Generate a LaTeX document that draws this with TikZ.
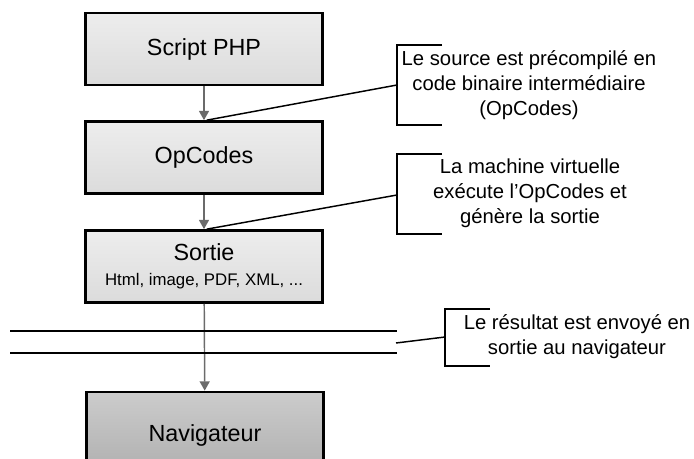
\documentclass[tikz,border=0pt]{standalone}
\usepackage{fontspec}
\setmainfont{Liberation Sans}
\usepackage{tikz}
\usetikzlibrary{arrows.meta}
\tikzstyle{phase}=[draw,black,line width=2pt,align=center,minimum width=178pt,minimum height=54pt,inner sep=2pt,top color=white!93!black,bottom color=white!86!black,font=\fontsize{17.5}{20}\selectfont]
\tikzstyle{client}=[phase,minimum height=64.5pt,top color=white!80!black,bottom color=white!68!black]
\tikzstyle{flow} = [draw,black!58,line width=1.1pt,-{Triangle[length=7pt,width=7.5pt]}]
\tikzstyle{note} = [align=center,inner sep=0pt,font=\fontsize{15.2}{18.75}\selectfont]
\tikzstyle{bracket} = [draw,black,line width=1.1pt]
\tikzstyle{wire} = [draw,black,line width=1.1pt]

\begin{document}
\begin{tikzpicture}[x=0.75pt,y=-0.75pt]
	\useasboundingbox (0,0) rectangle (694,458);
	\clip (0,0) rectangle (694,458);
	\node[phase] (script) at (204,49) {Script PHP};
	\node[phase] (opcodes) at (204,157.5) {OpCodes};
	\node[phase] (sortie) at (204,266.5) {Sortie\\[-1pt]{\fontsize{12.6}{15}\selectfont Html, image, PDF, XML, ...}};
	\node[client] (nav) at (205,435) {Navigateur};
	\path[flow] (script) -- (opcodes);
	\path[flow] (opcodes) -- (sortie);
	\path[flow] (sortie) -- (nav);
	\path[wire] (10,331) -- (397,331);
	\path[wire] (10,353) -- (397,353);
	\node[note] (compil) at (529,85) {Le source est précompilé en\\code binaire intermédiaire\\(OpCodes)};
	\node[note] (exec) at (530,193) {La machine virtuelle\\exécute l’OpCodes et\\génère la sortie};
	\node[note] (envoi) at (577,337) {Le résultat est envoyé en\\sortie au navigateur};
	\coordinate (k1) at (397,85);
	\coordinate (k2) at (397,195);
	\coordinate (k3) at (445,337);
	\coordinate (w) at (396,343);
	\path[bracket] (442,45) -- (397,45) -- (397,125) -- (442,125);
	\path[bracket] (442,154) -- (397,154) -- (397,234) -- (442,234);
	\path[bracket] (490,309) -- (445,309) -- (445,366) -- (490,366);
	\path[bracket] ([xshift=2pt]opcodes.north) -- (k1);
	\path[bracket] ([xshift=2pt]sortie.north) -- (k2);
	\path[bracket] (w) -- (k3);
\end{tikzpicture}
\end{document}
